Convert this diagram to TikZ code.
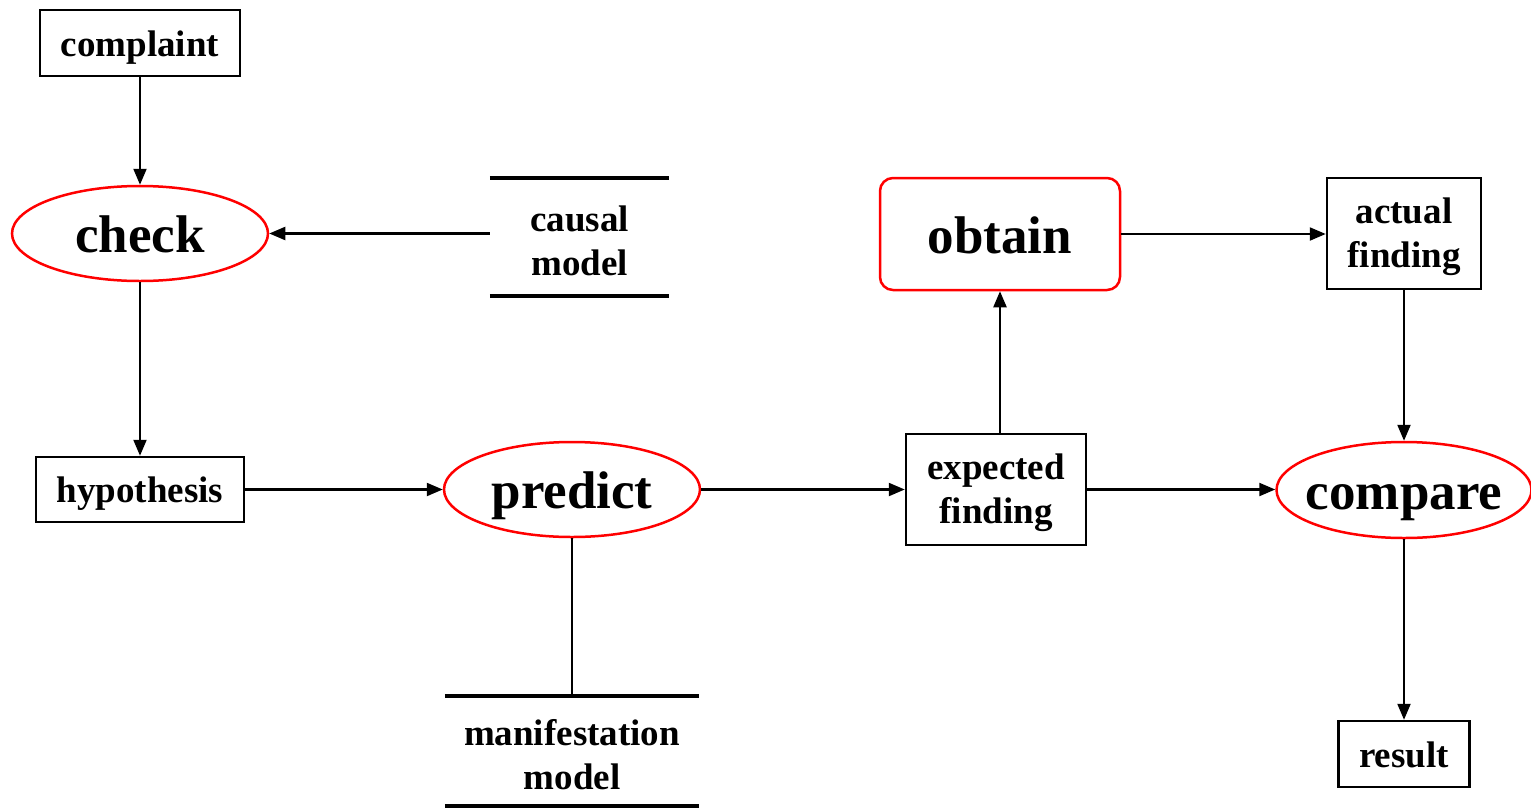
\documentclass[tikz,border=0pt]{standalone}
\usepackage{fontspec}
\setmainfont{Liberation Serif}
\usetikzlibrary{shapes.geometric,arrows.meta}

% invisible strut that lowers two-line labels inside their boxes
\newcommand\topstrut{\rule{0pt}{33pt}}

\tikzset{
  small/.style={font=\fontsize{37}{44}\selectfont\bfseries, align=center, inner sep=0pt},
  oneline/.style={small, text height=30pt, text depth=4pt},
  big/.style={font=\fontsize{53}{60}\selectfont\bfseries, align=center, inner sep=0pt,
              text height=40pt, text depth=2pt},
  databox/.style={draw=black, line width=2.5pt},
  process/.style={big, ellipse, draw=red, line width=2.5pt, inner xsep=-30pt, inner ysep=0pt,
                  minimum width=256pt, minimum height=95pt},
  procbox/.style={big, draw=red, line width=2.5pt, rounded corners=13pt},
  store/.style={small},
  storeline/.style={line width=4.5pt},
  flow/.style={line width=2.2pt, -{Triangle[length=16pt,width=13pt]}},
  plain/.style={line width=2.2pt}
}

\begin{document}
\begin{tikzpicture}[x=1pt,y=-1pt]
  \useasboundingbox (0,0) rectangle (1531,809);

  % left column
  \node[oneline, databox, minimum width=200pt, minimum height=66pt] (complaint) at (140,43) {complaint};
  \node[process] (check) at (140,233.5) {check};
  \node[oneline, databox, minimum width=208pt, minimum height=65pt] (hypothesis) at (140,489.5) {hypothesis};

  % data stores
  \node[store, minimum width=179pt, minimum height=118pt] (causal) at (579.5,237) {\topstrut causal\\model};
  \draw[storeline] (causal.north west) -- (causal.north east);
  \draw[storeline] (causal.south west) -- (causal.south east);

  \node[store, minimum width=254pt, minimum height=110pt] (manif) at (572,751) {\topstrut manifestation\\model};
  \draw[storeline] (manif.north west) -- (manif.north east);
  \draw[storeline] (manif.south west) -- (manif.south east);

  % middle
  \node[process] (predict) at (572,489.5) {predict};
  \node[small, databox, minimum width=180pt, minimum height=111pt] (expected) at (996,489.5) {\topstrut expected\\finding};
  \node[procbox, minimum width=240pt, minimum height=112pt] (obtain) at (1000,234) {obtain};

  % right column
  \node[small, databox, minimum width=154pt, minimum height=111pt] (actual) at (1404,233.5) {\topstrut actual\\finding};
  \node[process, minimum width=255pt, minimum height=96pt] (compare) at (1404,490) {compare};
  \node[oneline, databox, minimum width=131pt, minimum height=66pt] (result) at (1404,754) {result};

  % connectors
  \draw[flow] (complaint) -- (check);
  \draw[flow] (check.east -| causal.west) -- (check.east);
  \draw[flow] (check) -- (hypothesis);
  \draw[flow] (hypothesis) -- (predict);
  \draw[plain] (predict.south) -- (manif.north);
  \draw[flow] (predict) -- (expected);
  \draw[flow] (expected.north -| obtain.south) -- (obtain.south);
  \draw[flow] (obtain.east) -- (obtain.east -| actual.west);
  \draw[flow] (actual) -- (compare);
  \draw[flow] (expected.east) -- (expected.east -| compare.west);
  \draw[flow] (compare) -- (result);
\end{tikzpicture}
\end{document}
